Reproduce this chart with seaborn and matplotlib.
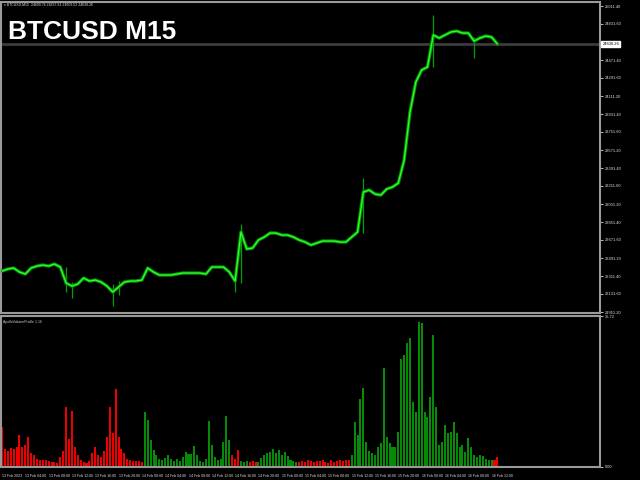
import pandas as pd
import seaborn as sns
import matplotlib.pyplot as plt
from matplotlib.transforms import blended_transform_factory

# hourly closes, BTCUSD M15 chart (13 Feb 00:00 -> 16 Feb 13:00)
price_close = [
    22361, 22381, 22391, 22351, 22331, 22391, 22411, 22421, 22411, 22431,
    22401, 22241, 22211, 22231, 22291, 22261, 22271, 22251, 22211, 22151,
    22201, 22251, 22261, 22261, 22271, 22391, 22351, 22321, 22321, 22321,
    22331, 22341, 22341, 22341, 22341, 22331, 22401, 22401, 22401, 22351,
    22261, 22751, 22581, 22591, 22671, 22701, 22741, 22741, 22721, 22721,
    22701, 22671, 22651, 22621, 22641, 22661, 22661, 22661, 22651, 22651,
    22701, 22751, 23151, 23171, 23131, 23121, 23181, 23201, 23241, 23471,
    23951, 24251, 24371, 24401, 24721, 24691, 24721, 24751, 24761, 24741,
    24741, 24661, 24691, 24711, 24701, 24631,
]
# long wicks that stand out on the chart
wick_hour = [11, 12, 19, 20, 40, 41, 62, 74, 81]
wick_high = [22401, 22251, 22231, 22261, 22331, 22831, 23291, 24921, 24701]
wick_low = [22151, 22091, 22011, 22121, 22151, 22241, 22741, 24401, 24491]

# indicator values, one per 30 minutes
volume = [
    9.5, 4.3, 3.8, 4.5, 4.3, 4.7, 7.6, 4.7, 5.2, 7.1,
    3.3, 2.8, 1.9, 1.7, 1.7, 1.7, 1.4, 1.2, 1.2, 0.9,
    2.4, 3.8, 14.2, 6.6, 13.2, 4.7, 2.8, 1.7, 1.2, 0.9,
    1.4, 3.3, 4.7, 2.8, 2.4, 3.8, 7.1, 14.2, 8.0, 18.5,
    7.1, 4.3, 3.3, 1.9, 1.7, 1.4, 1.4, 1.4, 1.2, 13.0,
    11.1, 6.4, 4.0, 2.8, 1.9, 1.7, 2.1, 2.8, 1.9, 1.4,
    1.9, 1.4, 2.4, 3.5, 3.1, 3.1, 5.0, 2.8, 1.4, 1.2,
    1.9, 10.9, 5.2, 2.4, 1.7, 1.9, 5.9, 12.1, 6.4, 2.8,
    1.9, 4.0, 1.4, 1.2, 1.4, 1.2, 1.4, 1.2, 1.2, 2.1,
    2.8, 3.3, 3.5, 4.3, 3.3, 4.0, 2.8, 3.5, 2.6, 1.7,
    1.4, 1.2, 1.2, 1.4, 1.2, 1.7, 1.4, 1.2, 1.4, 1.4,
    1.7, 1.2, 0.9, 1.7, 1.2, 1.4, 1.7, 1.4, 1.7, 1.7,
    2.8, 10.6, 7.6, 16.1, 18.7, 5.9, 3.8, 3.3, 2.8, 4.7,
    5.7, 23.4, 7.1, 5.7, 4.7, 4.7, 8.3, 25.6, 26.5, 29.3,
    30.5, 15.4, 13.0, 34.3, 34.1, 13.0, 11.8, 16.6, 31.2, 14.2,
    5.2, 5.9, 9.9, 8.0, 8.3, 10.6, 8.0, 4.7, 5.2, 3.5,
    6.9, 4.7, 2.8, 2.4, 2.8, 2.6, 1.9, 1.7, 1.7, 1.7,
    2.4,
]
# colour runs of the histogram (bars, side)
volume_runs = [(49, 'down'), (30, 'up'), (3, 'down'), (3, 'up'), (3, 'down'),
               (14, 'up'), (18, 'down'), (49, 'up'), (2, 'down')]

price_ticks = [25011.40, 24831.60, 24651.20, 24471.40, 24291.60, 24111.20,
               23931.40, 23751.60, 23571.20, 23391.40, 23211.60, 23031.20,
               22851.40, 22671.60, 22491.20, 22311.40, 22131.60, 21951.20]
time_labels = ['13 Feb 2023', '13 Feb 04:00', '13 Feb 08:00', '13 Feb 12:00',
               '13 Feb 16:00', '13 Feb 20:00', '14 Feb 00:00', '14 Feb 04:00',
               '14 Feb 08:00', '14 Feb 12:00', '14 Feb 16:00', '14 Feb 20:00',
               '15 Feb 00:00', '15 Feb 04:00', '15 Feb 08:00', '15 Feb 12:00',
               '15 Feb 16:00', '15 Feb 20:00', '16 Feb 00:00', '16 Feb 04:00',
               '16 Feb 08:00', '16 Feb 12:00']
last_price = 24630.26
header = 'BTCUSD,M15  24609.76 24637.81 24609.52 24630.26'
vol_max_label = 35.72

sides = []
for n, s in volume_runs:
    sides += [s] * n

df_price = pd.DataFrame({'hour': range(len(price_close)), 'price': price_close})
df_vol = pd.DataFrame({'hour': [i / 2 for i in range(len(volume))],
                       'volume': volume, 'side': sides})

sns.set_style('dark')
plt.rcParams['font.family'] = ['Liberation Sans', 'DejaVu Sans']

W, H = 640, 480
fig = plt.figure(figsize=(6.4, 4.8), dpi=100, facecolor='black')
ax = fig.add_axes([1 / W, 1 - 313 / H, 599 / W, 311 / H])
axv = fig.add_axes([1 / W, 1 - 467 / H, 599 / W, 151 / H])

grey = '#9a9a9a'
xlim = (-0.17, 102.6)

# main price panel
ax.vlines(wick_hour, wick_low, wick_high, color='#00a000', lw=0.9, zorder=2)
sns.lineplot(data=df_price, x='hour', y='price', ax=ax, color='#009a00', lw=2.4, zorder=3)
sns.lineplot(data=df_price, x='hour', y='price', ax=ax, color='#33ff33', lw=0.9, zorder=4)
ax.axhline(last_price, color='#3c3c3c', lw=2, zorder=1)
ax.set_xlim(xlim)
ax.set_ylim(21941.4, 25051.4)
ax.set_yticks(price_ticks)
# the label under the price box is hidden in the terminal
ax.set_yticklabels(['' if abs(p - last_price) < 60 else f'{p:.2f}' for p in price_ticks])
ax.set_xticks([])

# indicator panel
sns.barplot(data=df_vol, x='hour', y='volume', hue='side', ax=axv,
            native_scale=True, dodge=False, width=0.7, errorbar=None,
            palette={'down': '#ee0000', 'up': '#078a07'}, saturation=1,
            linewidth=0, legend=False)
axv.set_xlim(xlim)
axv.set_ylim(0, vol_max_label)
axv.set_yticks([0, vol_max_label])
axv.set_yticklabels(['0.00', f'{vol_max_label:.2f}'])
axv.get_yticklabels()[0].set_va('bottom')
axv.get_yticklabels()[1].set_va('top')
axv.set_xticks([4 * k for k in range(len(time_labels))])
axv.set_xticklabels(time_labels, ha='left')

for a in (ax, axv):
    a.set_facecolor('black')
    a.grid(False)
    a.set_xlabel('')
    a.set_ylabel('')
    for sp in a.spines.values():
        sp.set_visible(True)
        sp.set_color(grey)
        sp.set_linewidth(1.5)
    a.yaxis.tick_right()
    a.tick_params(axis='y', colors='#d8d8d8', labelsize=2.9, length=2,
                  width=0.6, pad=1.2, direction='out', labelcolor='#e0e0e0')
    a.tick_params(axis='x', colors='#d8d8d8', labelsize=2.5, length=3,
                  width=0.6, pad=1.8, direction='out', labelcolor='#e0e0e0')

# current price box
tr = blended_transform_factory(ax.transAxes, ax.transData)
ax.text(1.004, last_price, f'{last_price:.2f}', transform=tr, fontsize=2.9,
        color='black', va='center', ha='left', clip_on=False, zorder=10,
        bbox=dict(boxstyle='square,pad=0.3', fc='white', ec='white'))

fig.text(4 / W, 1 - 5 / H, '\u25be ' + header, fontsize=2.5, color='#e0e0e0',
         va='center', ha='left')
fig.text(8 / W, 1 - 32 / H, 'BTCUSD M15', fontsize=19, fontweight='bold',
         color='white', va='center', ha='left')
axv.text(0.004, 0.975, 'ApolloVolumeProfile 1.16', transform=axv.transAxes,
         fontsize=2.5, color='#d0d0d0', va='top', ha='left')

fig.savefig('out.png', dpi=100, facecolor='black')
